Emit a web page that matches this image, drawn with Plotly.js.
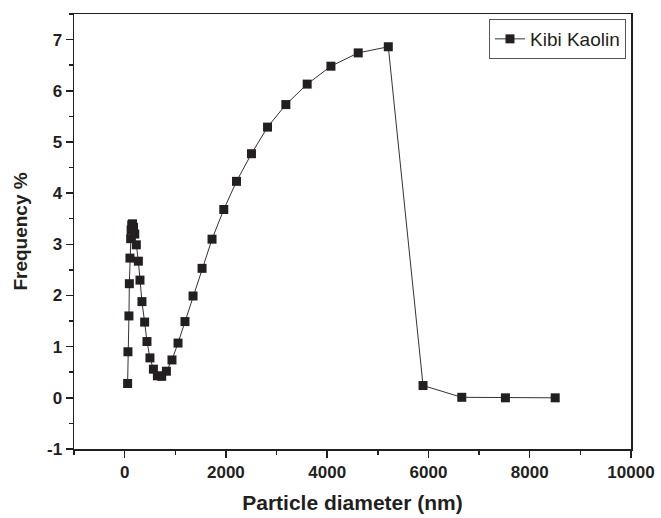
<!DOCTYPE html>
<html>
<head>
<meta charset="utf-8">
<script src="https://cdn.plot.ly/plotly-3.0.1.min.js"></script>
<style>html,body{margin:0;padding:0;background:#fff;}#chart{width:661px;height:518px;}</style>
</head>
<body>
<div id="chart"></div>
<script>
// Particle diameter (nm)
const diameter = [59, 65, 85, 93, 105, 119, 128, 140, 155, 175, 200, 231, 271, 303, 342, 395, 441, 500, 568, 647, 732, 825, 935, 1054, 1192, 1351, 1529, 1726, 1958, 2209, 2505, 2822, 3184, 3605, 4074, 4613, 5207, 5893, 6658, 7520, 8503];
// Frequency %
const frequency = [0.28, 0.90, 1.60, 2.23, 2.73, 3.11, 3.28, 3.38, 3.40, 3.33, 3.20, 2.99, 2.67, 2.30, 1.88, 1.48, 1.10, 0.78, 0.56, 0.43, 0.42, 0.52, 0.74, 1.07, 1.49, 1.99, 2.53, 3.10, 3.68, 4.23, 4.77, 5.29, 5.73, 6.13, 6.48, 6.74, 6.86, 0.24, 0.01, 0.00, 0.00];
const seriesName = "Kibi Kaolin";

const xTickVals = [0, 2000, 4000, 6000, 8000, 10000];
const xTickText = ["0", "2000", "4000", "6000", "8000", "10000"];
const yTickVals = [-1, 0, 1, 2, 3, 4, 5, 6, 7];
const yTickText = ["-1", "0", "1", "2", "3", "4", "5", "6", "7"];

const FONT = "Liberation Sans, Arial, sans-serif";

const trace = {
  x: diameter, y: frequency, name: seriesName,
  type: "scatter", mode: "lines+markers",
  line: {color: "#333333", width: 1},
  marker: {symbol: "square", size: 9, color: "#231f20", line: {width: 0}},
  showlegend: true
};

const layout = {
  width: 661, height: 518,
  margin: {l: 74, r: 30, t: 14, b: 69},
  paper_bgcolor: "#ffffff", plot_bgcolor: "#ffffff",
  font: {family: FONT, color: "#231f20"},
  showlegend: true,
  legend: {
    x: 0.991, xanchor: "right", y: 0.9885, yanchor: "top",
    bordercolor: "#555555", borderwidth: 1, bgcolor: "#ffffff",
    font: {family: FONT, size: 19, color: "#231f20"}
  },
  xaxis: {
    range: [-1000, 10000],
    tickmode: "array", tickvals: xTickVals, ticktext: xTickText,
    ticks: "outside", ticklen: 7, tickwidth: 1.5, tickcolor: "#231f20",
    minor: {dtick: 1000, tick0: 0, ticks: "outside", ticklen: 4, tickwidth: 1.5, tickcolor: "#231f20", showgrid: false},
    showline: true, linecolor: "#231f20", linewidth: 1.5, mirror: true,
    showgrid: false, zeroline: false,
    tickfont: {family: FONT, size: 17, color: "#231f20", weight: "bold"},
    title: {text: "<b>Particle diameter (nm)</b>", font: {family: FONT, size: 21, color: "#231f20"}, standoff: 14}
  },
  yaxis: {
    range: [-1, 7.5],
    tickmode: "array", tickvals: yTickVals, ticktext: yTickText,
    ticks: "outside", ticklen: 7, tickwidth: 1.5, tickcolor: "#231f20",
    minor: {dtick: 0.5, tick0: 0, ticks: "outside", ticklen: 4, tickwidth: 1.5, tickcolor: "#231f20", showgrid: false},
    showline: true, linecolor: "#231f20", linewidth: 1.5, mirror: true,
    showgrid: false, zeroline: false,
    tickfont: {family: FONT, size: 17, color: "#231f20", weight: "bold"},
    title: {text: "<b>Frequency %</b>", font: {family: FONT, size: 19, color: "#231f20"}, standoff: 14}
  }
};

Plotly.newPlot("chart", [trace], layout, {displayModeBar: false, staticPlot: true});
</script>
</body>
</html>
